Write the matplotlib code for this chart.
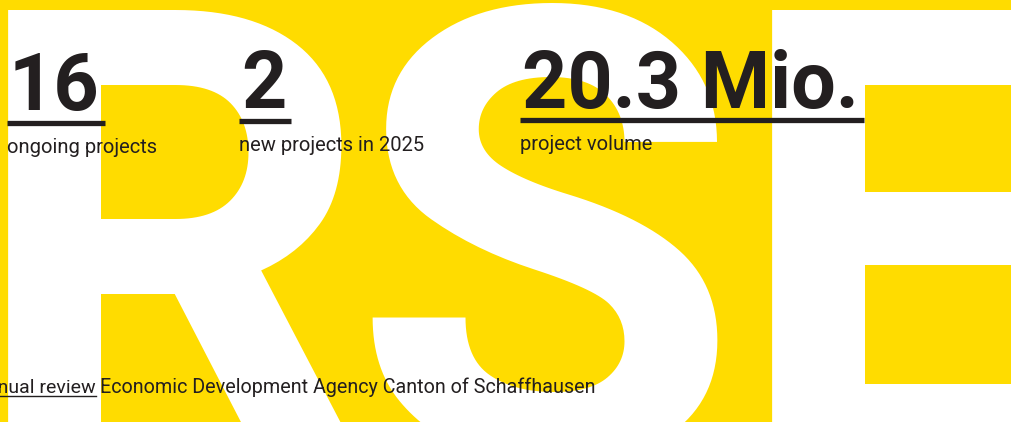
import matplotlib.pyplot as plt
from matplotlib.textpath import TextPath
from matplotlib.font_manager import FontProperties

# key figures of the banner
stat_values = ["16", "2", "20.3 Mio."]
stat_labels = ["ongoing projects", "new projects in 2025", "project volume"]
backdrop_letters = ["R", "S", "E"]
footer_link = "Annual review"
footer_title = "Economic Development Agency Canton of Schaffhausen"

yellow = "#FFDC00"
ink = "#231F20"

fig = plt.figure(figsize=(10.11, 4.22), dpi=100)
fig.patch.set_facecolor(yellow)
ax = fig.add_axes([0, 0, 1, 1])
ax.set_facecolor(yellow)
ax.set_xlim(0, 1011)
ax.set_ylim(422, 0)
ax.axis("off")

# huge white letters in the background, left edge of the ink at letter_x
big_size = 455
big_font = FontProperties(family="Roboto", weight="bold")
letter_x = [8, 372, 772]
for x, letter in zip(letter_x, backdrop_letters):
    bearing = TextPath((0, 0), letter, size=big_size, prop=big_font).get_extents().x0
    ax.text(x - bearing * 100 / 72, 459, letter, color="white", fontsize=big_size,
            fontproperties=big_font, ha="left", va="baseline", clip_on=False,
            zorder=0.5)

# numbers, underlines and captions
stat_x = [8, 240, 521]
num_base = [110, 108, 108]
under_y = [123, 121, 119.5]
lab_base = [153, 151, 150]
fig.canvas.draw()
for i, val in enumerate(stat_values):
    x = stat_x[i]
    t = ax.text(x + 1, num_base[i], val, color=ink, fontsize=57, family="Roboto",
                fontweight="bold", ha="left", va="baseline", zorder=3)
    bb = t.get_window_extent(fig.canvas.get_renderer()).transformed(ax.transData.inverted())
    ax.plot([x - 1, bb.x1 + 5], [under_y[i], under_y[i]], color=ink, lw=3.8,
            solid_capstyle="butt", zorder=3)
    ax.text(x - 1, lab_base[i], stat_labels[i], color=ink, fontsize=14.5,
            family="Roboto", ha="left", va="baseline", zorder=3)

# footer
ax.text(96, 393, footer_link, color=ink, fontsize=14, family="Roboto",
        ha="right", va="baseline", zorder=3)
ax.plot([0, 96], [396, 396], color=ink, lw=1, zorder=3)
ax.text(100, 393, footer_title, color=ink, fontsize=14.2, family="Roboto",
        ha="left", va="baseline", zorder=3)

fig.savefig("out.png", dpi=100, facecolor=yellow)
